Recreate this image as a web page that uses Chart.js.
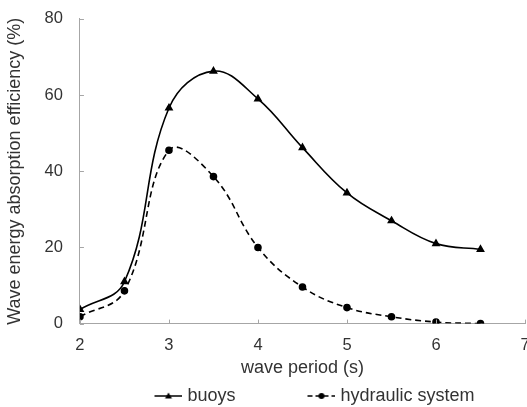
<!DOCTYPE html>
<html>
<head>
<meta charset="utf-8">
<script src="https://cdn.jsdelivr.net/npm/chart.js@4/dist/chart.umd.min.js"></script>
<style>
  html, body { margin: 0; padding: 0; background: #fff; overflow: hidden; }
  #wrap { width: 527px; height: 407px; position: relative; }
</style>
</head>
<body>
<div id="wrap"><canvas id="chart"></canvas></div>
<script>
// --- data ---
const periods = [2, 2.5, 3, 3.5, 4, 4.5, 5, 5.5, 6, 6.5];
const buoys = [3.7, 11, 56.6, 66.3, 59, 46.2, 34.3, 27, 21, 19.5];
const hydraulic = [1.8, 8.6, 45.5, 38.6, 20, 9.6, 4.2, 1.8, 0.4, 0];
const xTicks = [2, 3, 4, 5, 6, 7];
const yTicks = [0, 20, 40, 60, 80];

const AXIS = '#a6a6a6';
const TEXT = '#333';
const FONT = '"Liberation Sans", Arial, sans-serif';
const BOX = 90; // legend box slot; the swatch sits at its right end

// legend swatch: line + marker, drawn at the right end of a wider image
function swatch(dash, marker) {
  const c = document.createElement('canvas');
  c.width = BOX + 8; c.height = 12;
  const g = c.getContext('2d');
  const x0 = c.width - 28, mid = c.width - 14;
  g.strokeStyle = '#000';
  g.lineWidth = 1.5;
  g.setLineDash(dash);
  g.beginPath(); g.moveTo(x0, 6); g.lineTo(c.width, 6); g.stroke();
  g.fillStyle = '#000';
  g.beginPath();
  if (marker === 'triangle') { g.moveTo(mid, 2.5); g.lineTo(mid + 3.5, 8.5); g.lineTo(mid - 3.5, 8.5); g.closePath(); }
  else g.arc(mid, 6, 3, 0, Math.PI * 2);
  g.fill();
  return c;
}

// inward tick marks like the original
const innerTicks = {
  id: 'innerTicks',
  afterDraw(chart) {
    const { ctx, scales: { x, y } } = chart;
    ctx.save();
    ctx.strokeStyle = AXIS;
    ctx.lineWidth = 1;
    xTicks.forEach(v => {
      const px = Math.round(x.getPixelForValue(v)) + 0.5;
      ctx.beginPath(); ctx.moveTo(px, y.bottom); ctx.lineTo(px, y.bottom - 4); ctx.stroke();
    });
    yTicks.forEach(v => {
      const py = Math.round(y.getPixelForValue(v)) + 0.5;
      ctx.beginPath(); ctx.moveTo(x.left, py); ctx.lineTo(x.left + 4, py); ctx.stroke();
    });
    ctx.restore();
  }
};

// the original legend sits a bit right of centre
const legendShift = {
  id: 'legendShift',
  afterLayout(chart) {
    chart.legend.left += 17;
    chart.legend.right += 17;
  }
};

const ctx = document.getElementById('chart').getContext('2d');
new Chart(ctx, {
  type: 'line',
  data: {
    datasets: [{
      label: 'buoys',
      data: periods.map((p, i) => ({ x: p, y: buoys[i] })),
      borderColor: '#000',
      backgroundColor: '#000',
      borderWidth: 1.6,
      tension: 0.4,
      pointStyle: 'triangle',
      pointRadius: 3.5,
      legendSwatch: swatch([], 'triangle')
    }, {
      label: 'hydraulic system',
      data: periods.map((p, i) => ({ x: p, y: hydraulic[i] })),
      borderColor: '#000',
      backgroundColor: '#000',
      borderWidth: 1.6,
      borderDash: [6, 4],
      tension: 0.4,
      pointStyle: 'circle',
      pointRadius: 3,
      legendSwatch: swatch([5, 3], 'circle')
    }]
  },
  options: {
    responsive: true,
    maintainAspectRatio: false,
    animation: false,
    layout: { autoPadding: false, padding: { top: 4, right: 2, left: 4, bottom: -8 } },
    plugins: {
      tooltip: { enabled: false },
      legend: {
        position: 'bottom',
        labels: {
          color: TEXT,
          font: { family: FONT, size: 18 },
          usePointStyle: true,
          pointStyleWidth: BOX,
          padding: 6,
          generateLabels(chart) {
            return chart.data.datasets.map((d, i) => ({
              text: d.label,
              pointStyle: d.legendSwatch,
              fontColor: TEXT,
              datasetIndex: i,
              lineWidth: 0,
              hidden: false
            }));
          }
        }
      }
    },
    scales: {
      x: {
        type: 'linear',
        min: 2, max: 7,
        grid: { display: false },
        border: { color: AXIS },
        afterFit(scale) { scale.paddingRight = 0; },
        ticks: { stepSize: 1, color: TEXT, font: { family: FONT, size: 16.5 }, padding: 4 },
        title: { display: true, text: 'wave period (s)', color: TEXT, font: { family: FONT, size: 18 }, padding: { top: -2, bottom: 2 } }
      },
      y: {
        min: 0, max: 80,
        grid: { display: false },
        border: { color: AXIS },
        ticks: { stepSize: 20, color: TEXT, font: { family: FONT, size: 16.5 }, padding: 9 },
        title: { display: true, text: 'Wave energy absorption efficiency (%)', color: TEXT, font: { family: FONT, size: 18 }, padding: { top: 0, bottom: 10 } }
      }
    }
  },
  plugins: [innerTicks, legendShift]
});
</script>
</body>
</html>
